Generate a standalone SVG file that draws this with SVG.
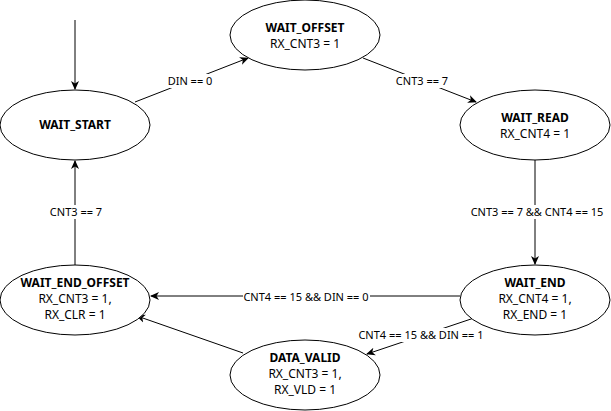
<svg xmlns="http://www.w3.org/2000/svg" width="611" height="411" viewBox="0 0 611 411">
<defs>
<marker id="arr" markerWidth="10" markerHeight="10" refX="8" refY="5" orient="auto" markerUnits="userSpaceOnUse">
<path d="M0,1 L9,5 L0,9 L2.5,5 Z" fill="#000"/>
</marker>
<style>
.st{fill:#fff;stroke:#000;stroke-width:1}
.t{font-family:"Noto Sans","Open Sans",sans-serif;font-size:12px;text-anchor:middle;fill:#000}
.b{font-weight:bold}
.e{fill:none;stroke:#000;stroke-width:1;marker-end:url(#arr)}
.l{font-family:"Noto Sans","Open Sans",sans-serif;font-size:11px;text-anchor:middle;fill:#000}
.bg{fill:#fff}
</style>
</defs>
<rect width="611" height="411" fill="#fff"/>
<g id="connectors">
<path class="e" d="M75,20 L75,89"/>
<path class="e" d="M135,102 L248,58"/>
<path class="e" d="M363,58 L476,102"/>
<path class="e" d="M535,160 L535,264"/>
<path class="e" d="M460,296 L151,296"/>
<path class="e" d="M474,318 L367,354"/>
<path class="e" d="M243,353 L137,316"/>
<path class="e" d="M75,265 L75,161"/>
<rect class="bg" x="167" y="74" width="47" height="14"/>
<text class="l" x="190" y="85">DIN == 0</text>
<rect class="bg" x="395" y="74" width="54" height="14"/>
<text class="l" x="422" y="85">CNT3 == 7</text>
<rect class="bg" x="470" y="205" width="135" height="14"/>
<text class="l" x="537" y="216">CNT3 == 7 &amp;&amp; CNT4 == 15</text>
<rect class="bg" x="243" y="290" width="127" height="14"/>
<text class="l" x="306" y="301">CNT4 == 15 &amp;&amp; DIN == 0</text>
<rect class="bg" x="358" y="328" width="126" height="14"/>
<text class="l" x="421" y="339">CNT4 == 15 &amp;&amp; DIN == 1</text>
<rect class="bg" x="49" y="205" width="54" height="14"/>
<text class="l" x="76" y="216">CNT3 == 7</text>
</g>
<g id="WAIT_START">
<ellipse class="st" cx="75" cy="125" rx="75" ry="35"/>
<text class="t b" x="75" y="129">WAIT_START</text>
</g>
<g id="WAIT_OFFSET">
<ellipse class="st" cx="305" cy="35" rx="75" ry="35"/>
<text class="t b" x="305" y="32">WAIT_OFFSET</text>
<text class="t" x="305" y="48">RX_CNT3 = 1</text>
</g>
<g id="WAIT_READ">
<ellipse class="st" cx="535" cy="125" rx="75" ry="35"/>
<text class="t b" x="535" y="122">WAIT_READ</text>
<text class="t" x="535" y="138">RX_CNT4 = 1</text>
</g>
<g id="WAIT_END">
<ellipse class="st" cx="535" cy="300" rx="75" ry="35"/>
<text class="t b" x="535" y="287">WAIT_END</text>
<text class="t" x="535" y="303">RX_CNT4 = 1,</text>
<text class="t" x="535" y="319">RX_END = 1</text>
</g>
<g id="WAIT_END_OFFSET">
<ellipse class="st" cx="75" cy="300" rx="75" ry="35"/>
<text class="t b" x="75" y="287">WAIT_END_OFFSET</text>
<text class="t" x="75" y="303">RX_CNT3 = 1,</text>
<text class="t" x="75" y="319">RX_CLR = 1</text>
</g>
<g id="DATA_VALID">
<ellipse class="st" cx="305" cy="375" rx="75" ry="35"/>
<text class="t b" x="305" y="362">DATA_VALID</text>
<text class="t" x="305" y="378">RX_CNT3 = 1,</text>
<text class="t" x="305" y="394">RX_VLD = 1</text>
</g>
</svg>
